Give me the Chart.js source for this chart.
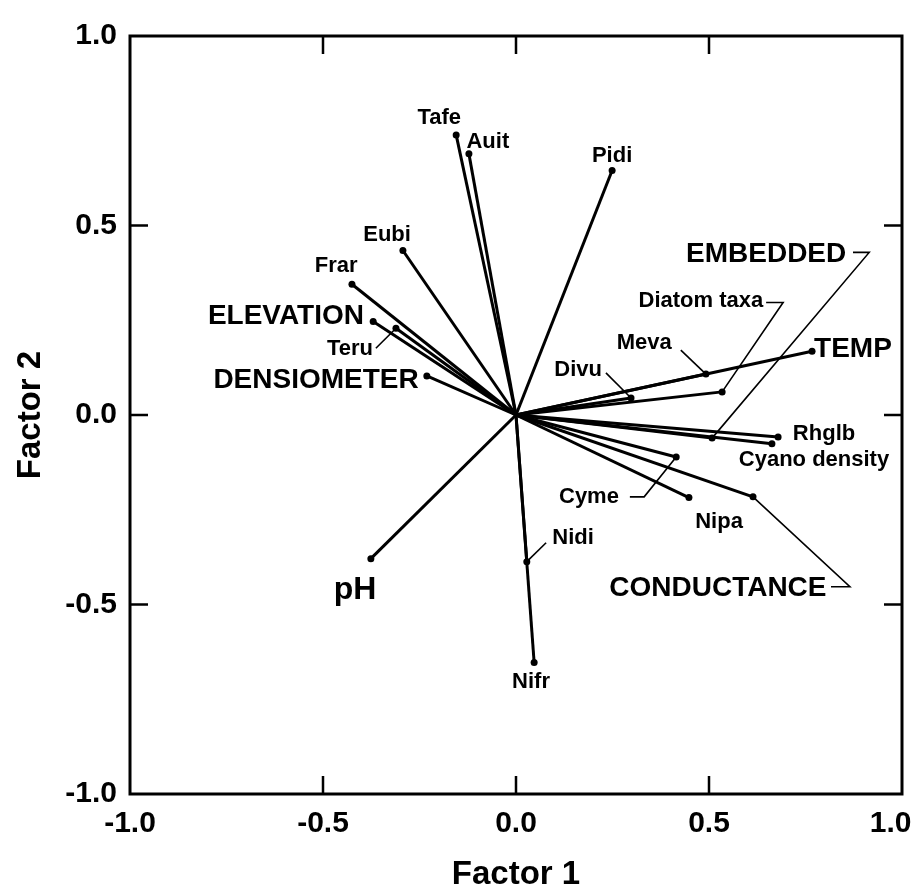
<!DOCTYPE html>
<html><head><meta charset="utf-8">
<script src="https://cdn.jsdelivr.net/npm/chart.js@4.4.1/dist/chart.umd.min.js"></script>
<style>html,body{margin:0;padding:0;background:#fff;}</style>
</head><body>
<canvas id="c" width="919" height="895"></canvas>
<script>
// ---- data ----
const variables = ["Tafe","Auit","Pidi","Eubi","Frar","ELEVATION","Teru","DENSIOMETER","TEMP","Meva","Diatom taxa","Divu","Rhglb","Cyano density","EMBEDDED","Cyme","Nipa","CONDUCTANCE","Nidi","Nifr","pH"];
const factor1 = [-0.155,-0.122,0.249,-0.293,-0.425,-0.370,-0.311,-0.231,0.767,0.492,0.534,0.298,0.679,0.663,0.508,0.415,0.448,0.614,0.028,0.047,-0.376];
const factor2 = [0.739,0.689,0.645,0.434,0.345,0.247,0.229,0.103,0.168,0.108,0.061,0.045,-0.058,-0.076,-0.061,-0.111,-0.218,-0.216,-0.387,-0.653,-0.379];
const tickValues = [-1.0,-0.5,0.0,0.5,1.0];
const bigLabels = ["ELEVATION","DENSIOMETER","TEMP","EMBEDDED","CONDUCTANCE"];

// ---- label layout (in axis units) ----
const labelPos = {
  "Tafe":{x:-0.199,y:0.784}, "Auit":{x:-0.073,y:0.721}, "Pidi":{x:0.249,y:0.684},
  "Eubi":{x:-0.334,y:0.476}, "Frar":{x:-0.466,y:0.392}, "ELEVATION":{x:-0.596,y:0.261},
  "Teru":{x:-0.430,y:0.174}, "DENSIOMETER":{x:-0.518,y:0.092}, "EMBEDDED":{x:0.648,y:0.424},
  "Diatom taxa":{x:0.479,y:0.300}, "Meva":{x:0.332,y:0.189}, "TEMP":{x:0.873,y:0.174},
  "Divu":{x:0.161,y:0.118}, "Rhglb":{x:0.798,y:-0.050}, "Cyano density":{x:0.772,y:-0.118},
  "Cyme":{x:0.189,y:-0.216}, "Nipa":{x:0.526,y:-0.282}, "CONDUCTANCE":{x:0.523,y:-0.458},
  "Nidi":{x:0.148,y:-0.324}, "pH":{x:-0.417,y:-0.461}, "Nifr":{x:0.039,y:-0.705}
};
const leaders = {
  "Teru":[[-0.363,0.176]],
  "EMBEDDED":[[0.873,0.429],[0.915,0.429]],
  "Diatom taxa":[[0.648,0.297],[0.692,0.297]],
  "Meva":[[0.427,0.171]],
  "Divu":[[0.233,0.111]],
  "Cyme":[[0.295,-0.216],[0.332,-0.216]],
  "CONDUCTANCE":[[0.816,-0.453],[0.865,-0.453]],
  "Nidi":[[0.078,-0.337]]
};

const FONT = '"Liberation Sans", Arial, Helvetica, sans-serif';

const datasets = variables.map((name,i)=>({
  label:name,
  data:[{x:0,y:0},{x:factor1[i],y:factor2[i]}],
  showLine:true,
  borderColor:'#000',
  borderWidth:3,
  pointRadius:[0,3.5],
  pointBackgroundColor:'#000',
  pointBorderWidth:0,
  pointHoverRadius:0
}));

const framePlugin = {
  id:'frame',
  afterDraw(chart){
    const {ctx, chartArea:a, scales:{x,y}} = chart;
    ctx.save();
    ctx.strokeStyle='#000';
    ctx.lineWidth=3;
    ctx.strokeRect(a.left,a.top,a.right-a.left,a.bottom-a.top);
    ctx.lineWidth=2.5;
    const L=18;
    tickValues.forEach(v=>{
      if (Math.abs(v)>=1) return;
      const px=x.getPixelForValue(v), py=y.getPixelForValue(v);
      ctx.beginPath();
      ctx.moveTo(px,a.bottom); ctx.lineTo(px,a.bottom-L);
      ctx.moveTo(px,a.top); ctx.lineTo(px,a.top+L);
      ctx.moveTo(a.left,py); ctx.lineTo(a.left+L,py);
      ctx.moveTo(a.right,py); ctx.lineTo(a.right-L,py);
      ctx.stroke();
    });
    ctx.restore();
  }
};

const labelPlugin = {
  id:'vecLabels',
  afterDatasetsDraw(chart){
    const {ctx, scales:{x,y}} = chart;
    ctx.save();
    ctx.strokeStyle='#000';
    ctx.lineWidth=1.6;
    variables.forEach((name,i)=>{
      const pts = leaders[name];
      if (pts){
        ctx.beginPath();
        pts.forEach((p,k)=>{
          const px=x.getPixelForValue(p[0]), py=y.getPixelForValue(p[1]);
          if(k===0) ctx.moveTo(px,py); else ctx.lineTo(px,py);
        });
        ctx.lineTo(x.getPixelForValue(factor1[i]), y.getPixelForValue(factor2[i]));
        ctx.stroke();
      }
    });
    ctx.fillStyle='#000';
    ctx.textAlign='center';
    ctx.textBaseline='middle';
    variables.forEach(name=>{
      const p = labelPos[name];
      let size = 22;
      if (bigLabels.includes(name)) size = 28;
      if (name==='pH') size = 32;
      ctx.font = 'bold '+size+'px '+FONT;
      ctx.fillText(name, x.getPixelForValue(p.x), y.getPixelForValue(p.y));
    });
    ctx.restore();
  }
};

const tickFont = {family:FONT, size:30, weight:'bold'};
const titleFont = {family:FONT, size:33, weight:'bold'};

new Chart(document.getElementById('c'), {
  type:'scatter',
  data:{datasets},
  options:{
    responsive:false,
    animation:false,
    devicePixelRatio:1,
    layout:{padding:{top:36,right:17,left:0,bottom:0}},
    plugins:{legend:{display:false},tooltip:{enabled:false}},
    scales:{
      x:{
        type:'linear', min:-1, max:1,
        afterBuildTicks:s=>{ s.ticks = tickValues.map(v=>({value:v})); },
        afterFit:s=>{ s.height=101; s.paddingLeft=0; s.paddingRight=0; },
        grid:{display:false, drawTicks:false},
        border:{display:false},
        ticks:{font:tickFont, color:'#000', padding:12, maxRotation:0, autoSkip:false,
               callback:v=> v>=1 ? Number(v).toFixed(1)+'\u2007\u2009' : Number(v).toFixed(1)},
        title:{display:true, text:'Factor 1', font:titleFont, color:'#000', padding:{top:0,bottom:0}}
      },
      y:{
        type:'linear', min:-1, max:1,
        afterBuildTicks:s=>{ s.ticks = tickValues.map(v=>({value:v})); },
        afterFit:s=>{ s.width=130; s.paddingTop=0; s.paddingBottom=0; },
        grid:{display:false, drawTicks:false},
        border:{display:false},
        ticks:{font:tickFont, color:'#000', padding:13, autoSkip:false,
               callback:v=>Number(v).toFixed(1)},
        title:{display:true, text:'Factor 2', font:titleFont, color:'#000', padding:{top:11,bottom:0}}
      }
    }
  },
  plugins:[framePlugin,labelPlugin]
});
</script>
</body></html>
